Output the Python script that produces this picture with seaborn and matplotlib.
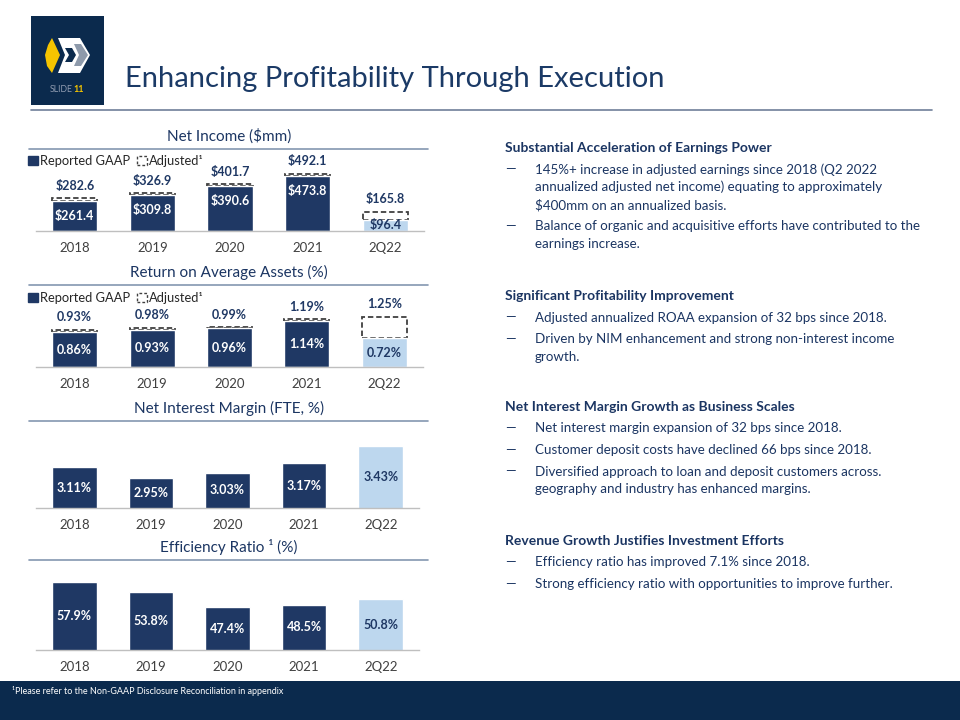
import numpy as np
import pandas as pd
import seaborn as sns
import matplotlib.pyplot as plt
from matplotlib.patches import Patch, Rectangle, Polygon
from matplotlib.lines import Line2D

# chart data
periods = ["2018", "2019", "2020", "2021", "2Q22"]

ni_reported = [261.4, 309.8, 390.6, 473.8, 96.4]
ni_adjusted = [282.6, 326.9, 401.7, 492.1, 165.8]

roaa_reported = [0.86, 0.93, 0.96, 1.14, 0.72]
roaa_adjusted = [0.93, 0.98, 0.99, 1.19, 1.25]

nim = [3.11, 2.95, 3.03, 3.17, 3.43]
efficiency = [57.9, 53.8, 47.4, 48.5, 50.8]

# right column text
sections = [
    ("Substantial Acceleration of Earnings Power", 148, [
        ["145%+ increase in adjusted earnings since 2018 (Q2 2022",
         "annualized adjusted net income) equating to approximately",
         "$400mm on an annualized basis."],
        ["Balance of organic and acquisitive efforts have contributed to the",
         "earnings increase."],
    ]),
    ("Significant Profitability Improvement", 296, [
        ["Adjusted annualized ROAA expansion of 32 bps since 2018."],
        ["Driven by NIM enhancement and strong non-interest income",
         "growth."],
    ]),
    ("Net Interest Margin Growth as Business Scales", 407, [
        ["Net interest margin expansion of 32 bps since 2018."],
        ["Customer deposit costs have declined 66 bps since 2018."],
        ["Diversified approach to loan and deposit customers across.",
         "geography and industry has enhanced margins."],
    ]),
    ("Revenue Growth Justifies Investment Efforts", 541, [
        ["Efficiency ratio has improved 7.1% since 2018."],
        ["Strong efficiency ratio with opportunities to improve further."],
    ]),
]

NAVY = "#1f3864"
LIGHT = "#bdd7ee"
DARK = "#0b2a4d"
TEXT = "#1b3562"
GREY = "#404040"
RULE = "#8497b0"

W, H = 960, 720

sns.set_style("white")
plt.rcParams["font.family"] = ["Lato", "DejaVu Sans"]

fig = plt.figure(figsize=(W / 100, H / 100), dpi=100)


def fx(px):
    return px / W


def fy(py):
    return 1 - py / H


def px_axes(left, top, right, bottom):
    return fig.add_axes([fx(left), fy(bottom), (right - left) / W, (bottom - top) / H])


def hline(x0, x1, y, color=RULE, lw=1.2):
    fig.add_artist(Line2D([fx(x0), fx(x1)], [fy(y), fy(y)], color=color, lw=lw,
                          transform=fig.transFigure))


palette = {p: (LIGHT if p == "2Q22" else NAVY) for p in periods}


def bar_chart(ax, values, ylim, fmt, label_y, adjusted=None):
    df = pd.DataFrame({"period": periods, "value": values})
    sns.barplot(data=df, x="period", y="value", hue="period", palette=palette,
                width=0.58, saturation=1, legend=False, ax=ax, zorder=2)
    if adjusted is not None:
        # dashed outline for adjusted value, sitting behind the reported bar
        ax.bar(range(len(periods)), np.subtract(adjusted, values), bottom=values,
               width=0.58, fill=False, edgecolor=GREY, linestyle=(0, (3, 1.6)),
               linewidth=1.3, zorder=1)
        for i, v in enumerate(adjusted):
            ax.annotate(fmt(v), (i, v), xytext=(0, 9), textcoords="offset points",
                        ha="center", va="center", fontsize=9, fontweight="bold",
                        color=NAVY)
    for i, v in enumerate(values):
        c = NAVY if periods[i] == "2Q22" else "white"
        ax.text(i, label_y(v), fmt(v), ha="center", va="center", fontsize=9,
                fontweight="bold", color=c, zorder=4)
    ax.set_ylim(*ylim)
    ax.set_xlim(-0.5, len(periods) - 0.5)
    ax.set_xlabel("")
    ax.set_ylabel("")
    ax.set_yticks([])
    for s in ["top", "left", "right"]:
        ax.spines[s].set_visible(False)
    ax.spines["bottom"].set_color("#bfbfbf")
    ax.spines["bottom"].set_linewidth(1)
    ax.set_xticks(range(len(periods)))
    ax.set_xticklabels(periods)
    ax.set_xticks(np.arange(-0.5, len(periods), 1), minor=True)
    ax.tick_params(axis="x", which="major", length=0, pad=8, labelsize=9.5,
                   labelcolor=GREY)
    ax.tick_params(axis="x", which="minor", length=4, width=1, color="#bfbfbf")
    ax.patch.set_alpha(0)


def chart_title(text, y):
    fig.text(fx(229), fy(y), text, ha="center", va="center", fontsize=11, color=TEXT)
    hline(29, 428, y + 13)


def chart_legend(ax, y):
    handles = [Patch(facecolor=NAVY, edgecolor=NAVY),
               Patch(facecolor="none", edgecolor=GREY, linestyle=(0, (2, 1.5)))]
    ax.legend(handles, ["Reported GAAP", "Adjusted\u00b9"], loc="center left",
              bbox_to_anchor=(fx(28), fy(y)), bbox_transform=fig.transFigure,
              ncol=2, frameon=False, handlelength=0.75, handleheight=0.75,
              handletextpad=0.2, columnspacing=0.5, borderpad=0, borderaxespad=0,
              fontsize=9.3, labelcolor="#262626")


# Net income
ax1 = px_axes(36, 150, 424, 231)
bar_chart(ax1, ni_reported, (0, 698), lambda v: f"${v:.1f}",
          lambda v: max(v - 130, v / 2), adjusted=ni_adjusted)
chart_title("Net Income ($mm)", 136)
chart_legend(ax1, 161)

# ROAA
ax2 = px_axes(36, 285, 423, 367)
bar_chart(ax2, roaa_reported, (0, 2.04), lambda v: f"{v:.2f}%",
          lambda v: v / 2, adjusted=roaa_adjusted)
chart_title("Return on Average Assets (%)", 272)
chart_legend(ax2, 298)

# NIM
ax3 = px_axes(36, 422, 419, 508)
bar_chart(ax3, nim, (2.5, 3.79), lambda v: f"{v:.2f}%", lambda v: (v + 2.5) / 2)
chart_title("Net Interest Margin (FTE, %)", 408)

# Efficiency
ax4 = px_axes(36, 562, 419, 650)
bar_chart(ax4, efficiency, (30, 66), lambda v: f"{v:.1f}%", lambda v: (v + 30) / 2)
chart_title("Efficiency Ratio \u00b9 (%)", 547)

# right column commentary
for head, y, bullets in sections:
    fig.text(fx(505), fy(y), head, ha="left", va="center", fontsize=10,
             fontweight="bold", color=TEXT)
    y += 21.5
    for lines in bullets:
        fig.text(fx(505), fy(y), "\u2014", ha="left", va="center", fontsize=9.6,
                 color=TEXT)
        for ln in lines:
            fig.text(fx(535), fy(y), ln, ha="left", va="center", fontsize=9.6,
                     color=TEXT)
            y += 17.7
        y += 21.5 - 17.7

# header: logo, title, rule
fig.add_artist(Rectangle((fx(31), fy(105)), 73 / W, 89 / H, facecolor=DARK,
                         edgecolor="none", transform=fig.transFigure))


def logo_poly(pts, color):
    fig.add_artist(Polygon([(fx(x), fy(y)) for x, y in pts], closed=True,
                           facecolor=color, edgecolor="none", transform=fig.transFigure))


logo_poly([(52, 38), (60, 55), (52, 73), (47, 66), (45, 55), (48, 45)], "#f5c400")
logo_poly([(58, 38), (80, 38), (90, 55), (80, 73), (58, 73), (65, 55)], "white")
logo_poly([(74, 44), (81, 44), (88, 55), (81, 66), (74, 66), (79, 55)], "#8e9aab")
logo_poly([(65, 48), (72, 48), (76, 55), (72, 62), (65, 62), (69, 55)], DARK)
fig.text(fx(50), fy(90), "SLIDE", fontsize=6.3, color="#8f9bb0", va="center")
fig.text(fx(73), fy(90), "11", fontsize=6.5, color="#f5c400", va="center",
         fontweight="bold")

fig.text(fx(125), fy(79), "Enhancing Profitability Through Execution", fontsize=21,
         color="#1b3a66", va="center", ha="left")
hline(31, 932, 110, color="#6f7f99", lw=1.2)

# footer band
fig.add_artist(Rectangle((0, 0), 1, 39 / H, facecolor=DARK, edgecolor="none",
                         transform=fig.transFigure))
fig.text(fx(12), fy(691), "\u00b9Please refer to the Non-GAAP Disclosure Reconciliation in appendix",
         fontsize=6.5, color="white", va="center", ha="left")

fig.savefig("out.png", dpi=100)
